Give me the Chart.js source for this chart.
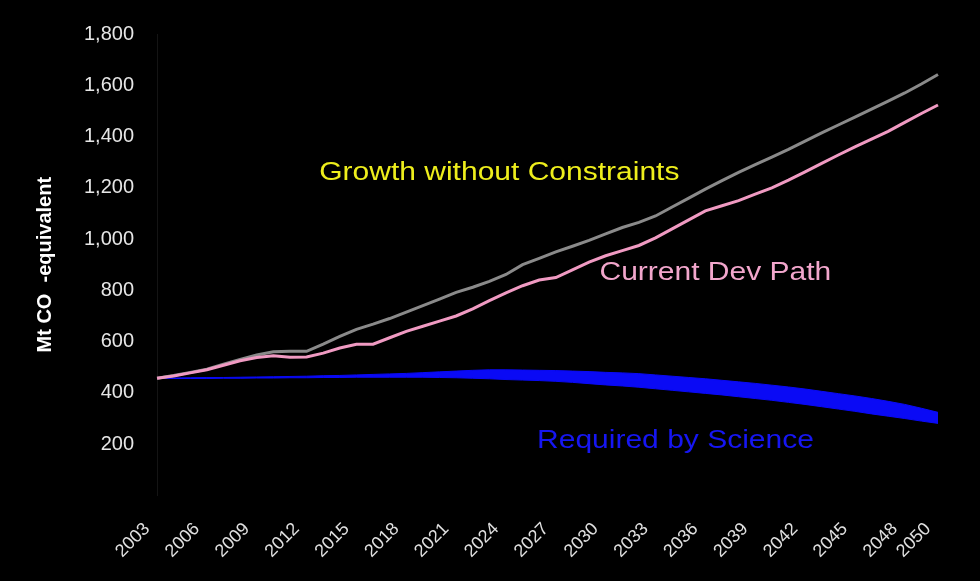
<!DOCTYPE html>
<html>
<head>
<meta charset="utf-8">
<script src="https://cdn.jsdelivr.net/npm/chart.js@4.4.1/dist/chart.umd.min.js"></script>
<style>
  html, body { margin: 0; padding: 0; background: #000; }
  #contenedor { width: 980px; height: 581px; position: relative; }
</style>
</head>
<body>
<div id="contenedor"><canvas id="grafica"></canvas></div>
<script>
// datos
const anios = [2003,2004,2005,2006,2007,2008,2009,2010,2011,2012,2013,2014,2015,2016,2017,2018,2019,2020,2021,2022,2023,2024,2025,2026,2027,2028,2029,2030,2031,2032,2033,2034,2035,2036,2037,2038,2039,2040,2041,2042,2043,2044,2045,2046,2047,2048,2049,2050];

const crecimiento = [457,468,480,492,512,530,548,560,562,562,590,620,648,668,690,715,740,766,792,812,835,862,900,925,950,972,995,1020,1045,1065,1090,1125,1160,1195,1228,1260,1290,1320,1350,1382,1414,1445,1476,1507,1538,1570,1605,1642];

const rutaActual = [457,466,478,490,508,525,538,545,539,540,555,575,590,590,615,640,660,680,700,728,760,790,818,840,850,880,910,935,955,975,1005,1040,1075,1110,1130,1150,1175,1200,1230,1262,1295,1328,1360,1390,1420,1455,1490,1523];

const cienciaAlto = [457,458,459,460,460,461,462,463,464,465,467,468,470,472,474,476,479,482,485,488,490,490,489,488,487,485,483,480,478,475,470,465,460,455,449,443,437,430,423,415,406,397,388,378,367,355,340,324];

const cienciaBajo = [457,456,456,456,457,457,458,458,459,459,460,460,461,461,461,461,461,460,459,457,455,452,450,448,445,441,436,431,427,422,416,410,404,398,392,385,378,371,363,355,346,337,328,318,309,300,290,281];

const marcasY = [200,400,600,800,1000,1200,1400,1600,1800];

const etiquetas = ['Growth without Constraints','Current Dev Path','Required by Science'];

const fuente = '"Liberation Sans", Arial, sans-serif';

// textos sobre el grafico (un poco estirados a lo ancho como en la imagen)
function escribir(ctx, texto, px, py, color) {
  ctx.save();
  ctx.translate(px, py);
  ctx.scale(1.2, 1);
  ctx.fillStyle = color;
  ctx.fillText(texto, 0, 0);
  ctx.restore();
}

const textos = {
  id: 'textos',
  afterDatasetsDraw(chart) {
    const ctx = chart.ctx;
    const x = chart.scales.x;
    const y = chart.scales.y;
    ctx.save();
    ctx.font = '25px ' + fuente;
    ctx.textAlign = 'center';
    ctx.textBaseline = 'middle';
    escribir(ctx, etiquetas[0], x.getPixelForValue(20.6), y.getPixelForValue(1258), '#eeee1c');
    escribir(ctx, etiquetas[1], x.getPixelForValue(33.6), y.getPixelForValue(868), '#f2a6cc');
    escribir(ctx, etiquetas[2], x.getPixelForValue(31.2), y.getPixelForValue(210), '#1616f2');
    ctx.restore();
  }
};

const grafica = document.getElementById('grafica');

new Chart(grafica, {
  type: 'line',
  data: {
    labels: anios,
    datasets: [
      {
        label: etiquetas[1],
        data: rutaActual,
        borderColor: '#f09ac2',
        borderWidth: 3,
        pointRadius: 0,
        fill: false
      },
      {
        label: etiquetas[0],
        data: crecimiento,
        borderColor: '#8a8a8a',
        borderWidth: 3,
        pointRadius: 0,
        fill: false
      },
      {
        label: 'bajo',
        data: cienciaBajo,
        borderColor: '#0a0af5',
        borderWidth: 1,
        pointRadius: 0,
        fill: false
      },
      {
        label: etiquetas[2],
        data: cienciaAlto,
        borderColor: '#0a0af5',
        backgroundColor: '#0a0af5',
        borderWidth: 1,
        pointRadius: 0,
        fill: '-1'
      }
    ]
  },
  options: {
    responsive: true,
    maintainAspectRatio: false,
    animation: false,
    layout: { padding: { left: 33, right: 42, top: 34, bottom: 4 } },
    plugins: {
      legend: { display: false },
      tooltip: { enabled: false }
    },
    scales: {
      x: {
        grid: { display: false },
        border: { display: false },
        ticks: {
          color: '#e0e0e0',
          font: { family: fuente, size: 18 },
          autoSkip: false,
          maxRotation: 45,
          minRotation: 45,
          padding: 15,
          labelOffset: -10,
          callback: function(valor, indice) {
            if (indice % 3 == 0 || indice == anios.length - 1) {
              return anios[indice];
            }
            return '';
          }
        }
      },
      y: {
        min: 0,
        max: 1800,
        grid: { display: false },
        border: { display: true, color: '#141414' },
        afterBuildTicks: function(eje) {
          eje.ticks = [{ value: 0 }].concat(marcasY.map(v => ({ value: v })));
        },
        ticks: {
          color: '#e6e6e6',
          font: { family: fuente, size: 20 },
          padding: 15,
          callback: function(valor) {
            if (valor == 0) return '';
            return valor.toLocaleString('en-US');
          }
        },
        title: {
          display: true,
          text: 'Mt CO  -equivalent',
          color: '#ffffff',
          font: { family: fuente, size: 20, weight: 'bold' },
          padding: { top: 0, bottom: 12 }
        }
      }
    }
  },
  plugins: [textos]
});
</script>
</body>
</html>
